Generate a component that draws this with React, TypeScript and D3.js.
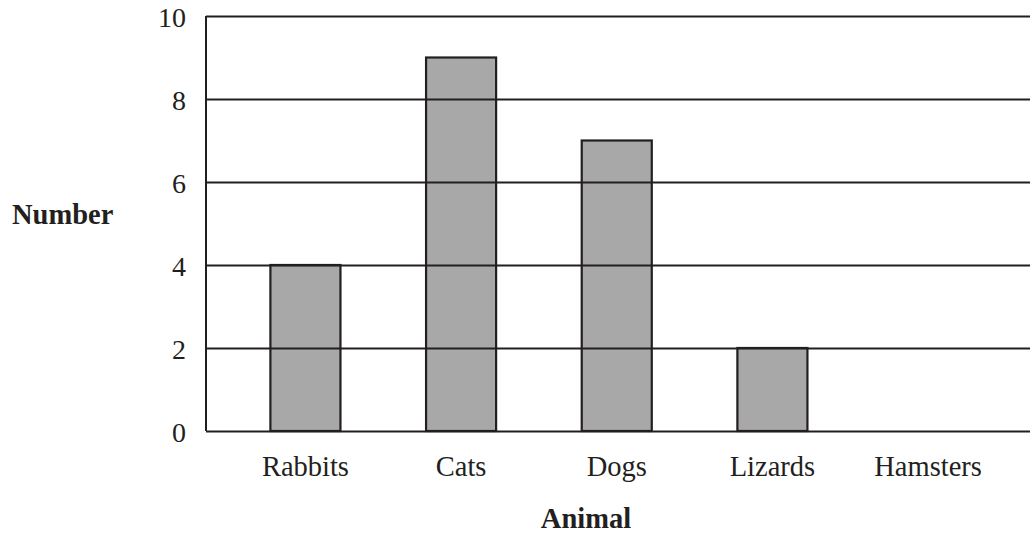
import React, { useEffect, useRef } from "react";
import { axisLeft, scaleBand, scaleLinear, select } from "d3";

const animals = ["Rabbits", "Cats", "Dogs", "Lizards", "Hamsters"];
const counts = [4, 9, 7, 2, 0];
const yTicks = [0, 2, 4, 6, 8, 10];

const W = 1030;
const H = 539;
const FONT = "'Liberation Serif', 'Times New Roman', serif";
const INK = "#231f20";

const App: React.FC = () => {
    const svgRef = useRef<SVGSVGElement>(null);

    useEffect(() => {
        if (!svgRef.current) return;
        svgRef.current.innerHTML = "";

        const left = 206,
            right = 1030,
            top = 16,
            bottom = 431;

        const x = scaleBand<string>()
            .domain(animals)
            .range([227.6, 1005.9])
            .paddingInner(0.55)
            .paddingOuter(0.275);

        const y = scaleLinear().domain([0, 10]).range([bottom, top]);

        const svg = select(svgRef.current);

        // bars first so grid lines sit on top like the original
        svg.append("g")
            .selectAll("rect")
            .data(animals.map((a, i) => ({ a, v: counts[i] })).filter(d => d.v > 0))
            .enter()
            .append("rect")
            .attr("x", d => x(d.a)!)
            .attr("y", d => y(d.v))
            .attr("width", x.bandwidth())
            .attr("height", d => y(0) - y(d.v))
            .attr("fill", "#a8a8a8")
            .attr("stroke", INK)
            .attr("stroke-width", 2.2);

        svg.append("g")
            .attr("transform", `translate(${left},0)`)
            .call(
                axisLeft(y)
                    .tickValues(yTicks)
                    .tickSize(-(right - left))
                    .tickPadding(20)
                    .tickFormat(d => `${d}`),
            )
            .call(g => g.select(".domain").remove())
            .call(g =>
                g.selectAll(".tick line")
                    .attr("stroke", INK)
                    .attr("stroke-width", 2),
            )
            .call(g =>
                g.selectAll(".tick text")
                    .attr("fill", INK)
                    .attr("font-family", FONT)
                    .attr("font-size", 28)
                    .attr("dy", "0.36em"),
            );

        svg.append("line")
            .attr("x1", left)
            .attr("x2", left)
            .attr("y1", top)
            .attr("y2", bottom)
            .attr("stroke", INK)
            .attr("stroke-width", 2);

        svg.append("g")
            .selectAll("text")
            .data(animals)
            .enter()
            .append("text")
            .attr("x", d => x(d)! + x.bandwidth() / 2)
            .attr("y", 476)
            .attr("text-anchor", "middle")
            .attr("font-family", FONT)
            .attr("font-size", 28.5)
            .attr("fill", INK)
            .text(d => d);

        svg.append("text")
            .attr("x", 586)
            .attr("y", 528)
            .attr("text-anchor", "middle")
            .attr("font-family", FONT)
            .attr("font-size", 28.5)
            .attr("font-weight", "bold")
            .attr("fill", INK)
            .text("Animal");

        svg.append("text")
            .attr("x", 12)
            .attr("y", 224)
            .attr("font-family", FONT)
            .attr("font-size", 28.5)
            .attr("font-weight", "bold")
            .attr("fill", INK)
            .text("Number");
    }, []);

    return (
        <svg
            ref={svgRef}
            width={W}
            height={H}
            style={{ position: "absolute", left: 0, top: 0, background: "#fff" }}
        ></svg>
    );
};

export default App;
